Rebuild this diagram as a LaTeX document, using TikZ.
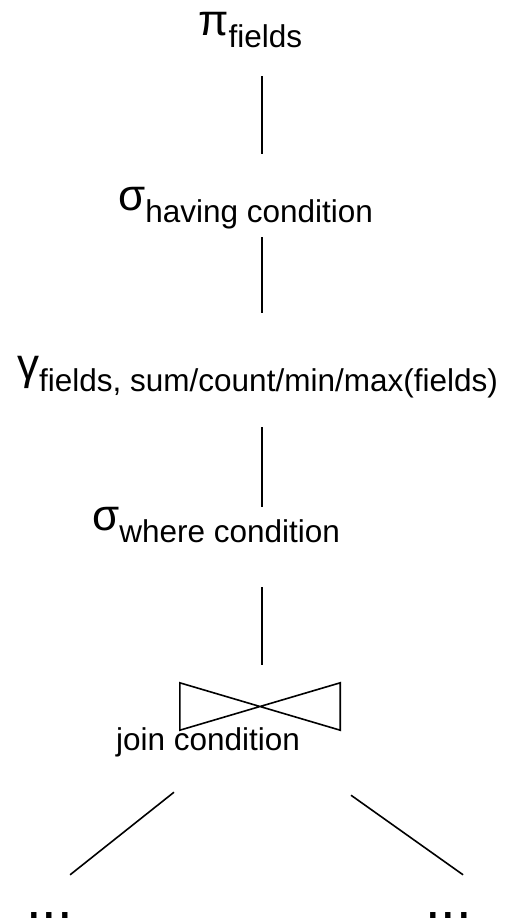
\documentclass[tikz,border=0pt]{standalone}
\usepackage{fontspec}
\setmainfont{Liberation Sans}
\tikzset{
	opnode/.style = {anchor=base west, inner sep=0pt,
		font=\fontsize{44}{44}\selectfont},% operator symbol with subscript
	txtnode/.style = {anchor=base west, inner sep=0pt,
		font=\fontsize{31.5}{31.5}\selectfont},% plain label
	dotsnode/.style = {anchor=base west, inner sep=0pt, text height=43pt,
		text depth=0pt, font=\fontsize{56}{56}\selectfont},% omitted subtree
	link/.style = {draw=black, line width=1.6pt}
}
\newcommand{\opsub}[2]{#1\raisebox{-12pt}{\fontsize{31.5}{31.5}\selectfont #2}}

\begin{document}
\begin{tikzpicture}[x=1pt,y=1pt]
	\useasboundingbox (0,0) rectangle (510,-922);
	\coordinate (spine) at (262,0);
	\node[opnode] (proj) at (198,-35) {\opsub{π}{fields}};
	\node[opnode] (having) at (118,-210) {\opsub{σ}{having condition}};
	\node[opnode] (group) at (17,-379) {\opsub{γ}{fields, sum/count/min/max(fields)}};
	\node[opnode] (where) at (92,-530) {\opsub{σ}{where condition}};
	\node[inner sep=0pt, minimum width=160pt, minimum height=47pt] (join) at (260,-706.5) {};
	\draw[link] (join.north west) -- (join.south east) -- (join.north east)
		-- (join.south west) -- cycle;
	\node[txtnode] (joincond) at (116,-750) {join condition};
	\node[dotsnode] (leftdots) at (26,-918) {...};
	\node[dotsnode] (rightdots) at (425,-918) {...};
	% operator chain
	\draw[link, shorten <=41pt, shorten >=56pt] (proj.base -| spine) -- (having.base -| spine);
	\draw[link, shorten <=27pt, shorten >=66pt] (having.base -| spine) -- (group.base -| spine);
	\draw[link, shorten <=48pt, shorten >=23pt] (group.base -| spine) -- (where.base -| spine);
	\draw[link, shorten <=57pt, shorten >=18pt] (where.base -| spine) -- (join.north -| spine);
	% join inputs
	\draw[link] ([shift={(-86,-62)}]join.south) -- ([xshift=-3pt]leftdots.north east);
	\draw[link] ([shift={(91,-65)}]join.south) -- ([xshift=-9pt]rightdots.north east);
\end{tikzpicture}
\end{document}
